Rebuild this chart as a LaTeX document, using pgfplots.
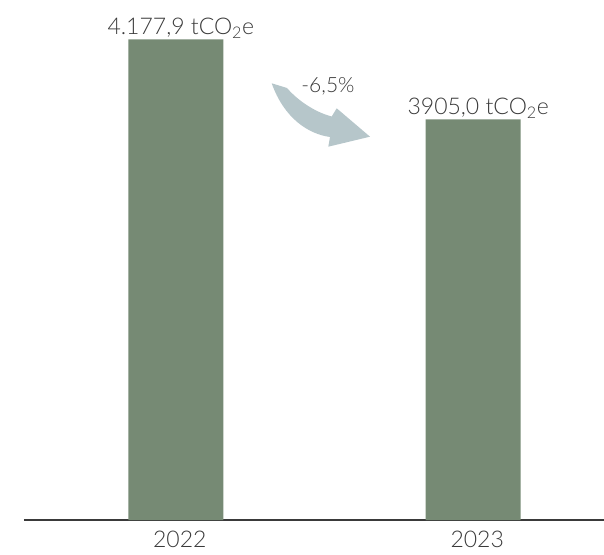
\documentclass[border=0pt]{standalone}
\usepackage{pgfplots}
\pgfplotsset{compat=1.18}
\usepackage{fontspec}
\setmainfont{Lato}[UprightFont=* Light]
\definecolor{barcol}{RGB}{118,138,116}
\definecolor{arrowcol}{RGB}{182,198,202}
\definecolor{txtcol}{RGB}{58,58,58}

\begin{document}
\begin{tikzpicture}
\path[use as bounding box] (0,0) rectangle (604pt,554pt);
\begin{axis}[
    at={(24pt,34pt)}, anchor=south west,
    scale only axis,
    width=580pt, height=520pt,
    xmin=-0.5104, xmax=1.4399,
    ymin=2538, ymax=4312,
    ybar, bar width=95pt,
    axis x line=bottom, axis y line=none,
    x axis line style={-, draw=txtcol, line width=1.4pt},
    xtick={0,1}, xticklabels={2022,2023},
    xtick style={draw=none},
    xticklabel style={font=\fontsize{23}{27}\selectfont, text=txtcol, xshift=4pt, yshift=-5pt},
    point meta=explicit symbolic,
    nodes near coords={\pgfplotspointmeta\ tCO\textsubscript{2}e},
    every node near coord/.append style={font=\fontsize{23}{27}\selectfont, text=txtcol, anchor=south, inner sep=1pt, xshift=5pt},
]
\addplot[fill=barcol, draw=none] coordinates {
    (0,4177.9) [4.177,9]
    (1,3905.0) [3905,0]
};
\end{axis}
\begin{scope}[yshift=554pt, x=1pt, y=-1pt]
\fill[arrowcol] (271.7,83.3) -- (287,88)
    .. controls (300,103) and (318,113) .. (331.7,116.5)
    -- (336.7,108.3) -- (370,136.7) -- (328.3,146.7) -- (330,137)
    .. controls (308,134) and (284,118) .. (271.7,83.3) -- cycle;
\node[text=txtcol, font=\fontsize{21}{25}\selectfont] at (328,86) {-6,5\%};
\end{scope}
\end{tikzpicture}
\end{document}
